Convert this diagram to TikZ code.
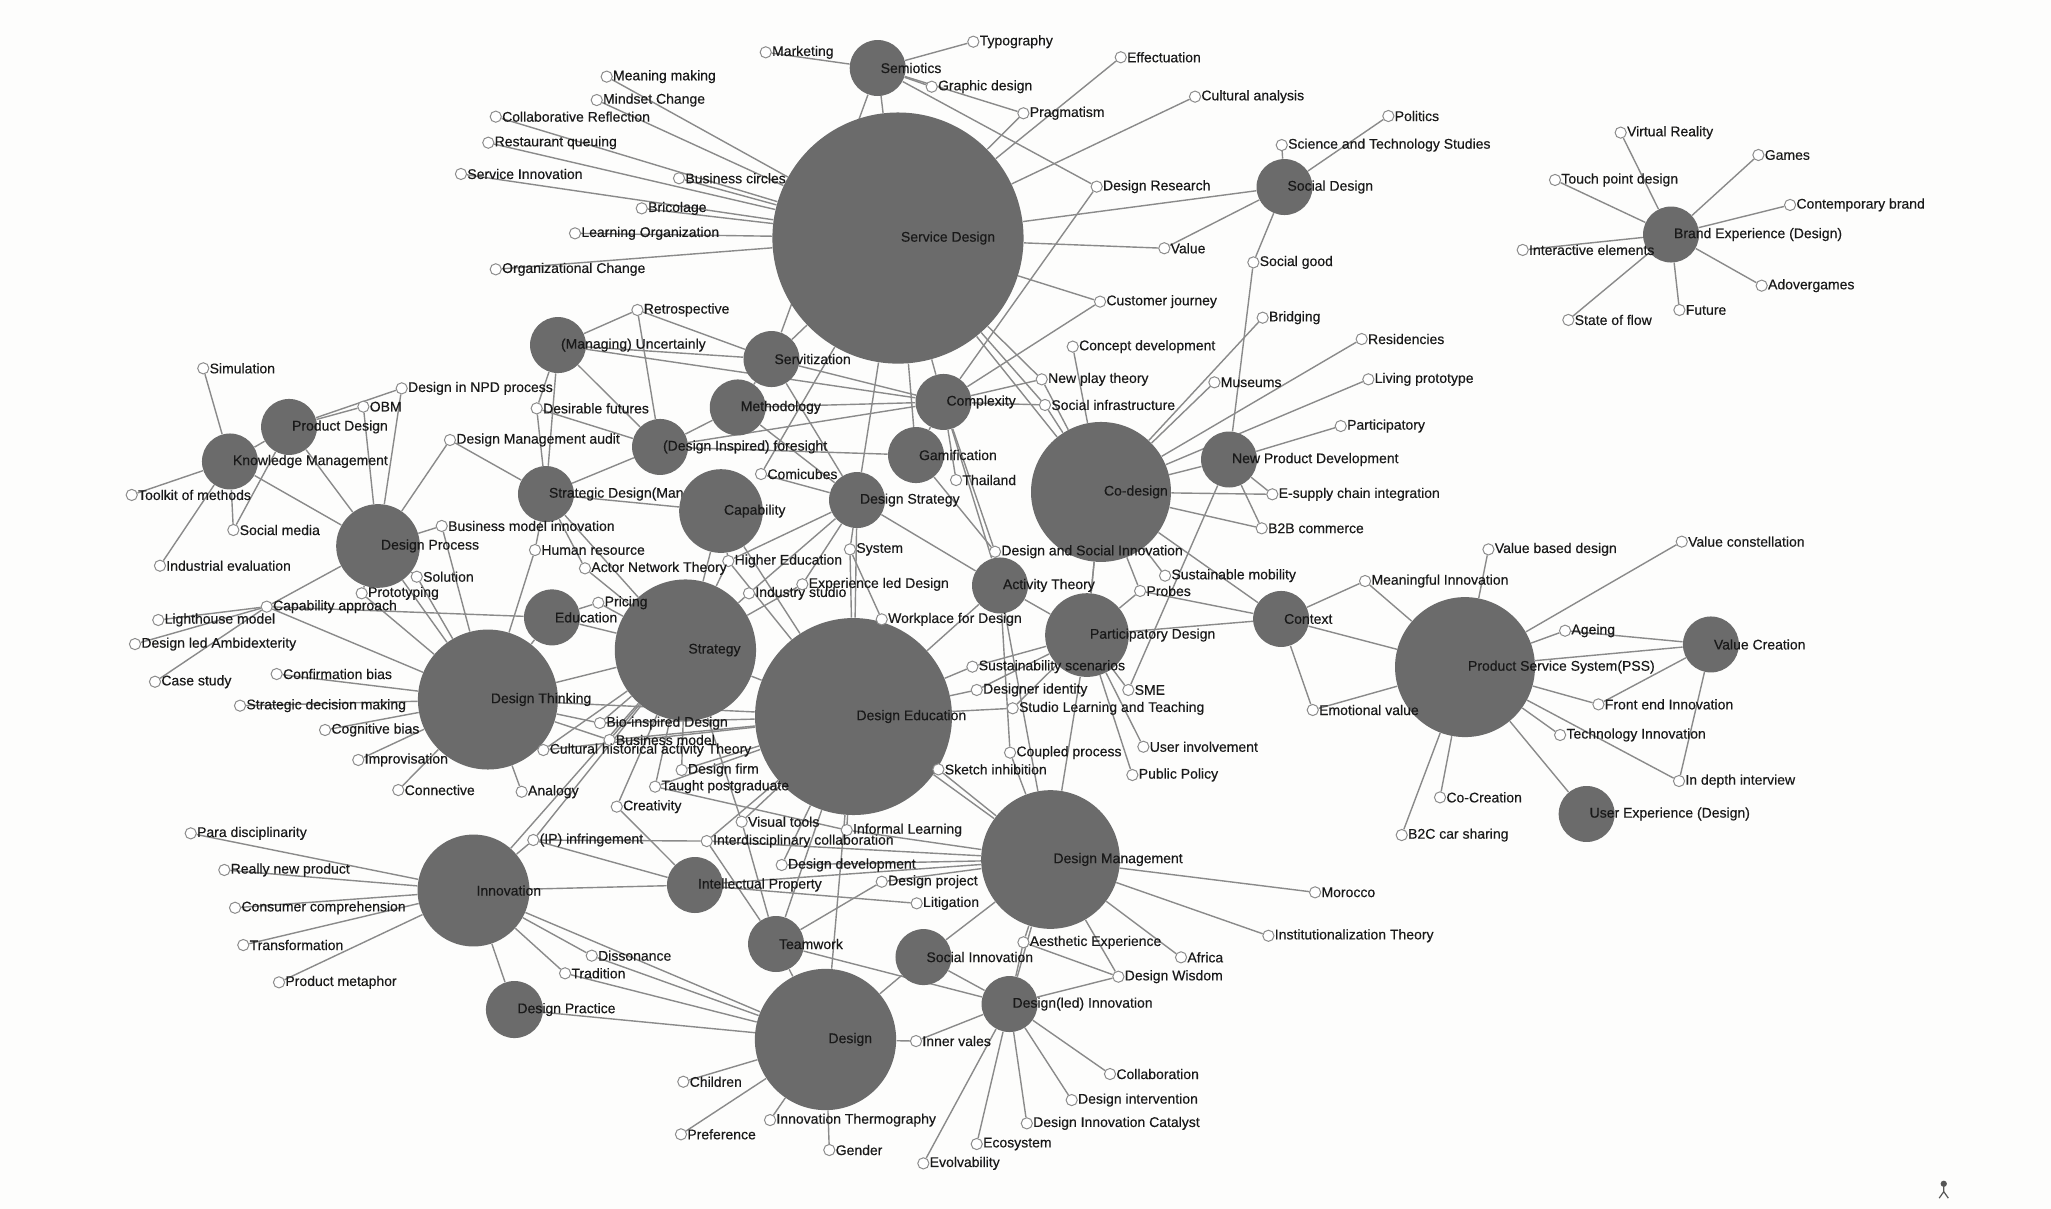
\documentclass[tikz,border=0pt]{standalone}
\usepackage{fontspec}
\setmainfont{Liberation Sans}
\newfontfamily\lblfont{Liberation Sans}[FakeBold=0.35]
\pgfdeclarelayer{paperlayer}\pgfdeclarelayer{bg}\pgfdeclarelayer{fg}
\pgfsetlayers{paperlayer,bg,main,fg}
\definecolor{nodegray}{RGB}{107,107,107}
\definecolor{edgegray}{RGB}{138,138,138}
\definecolor{ringgray}{RGB}{140,140,140}
\definecolor{txt}{RGB}{25,25,25}
\definecolor{paper}{RGB}{253,253,252}
\begin{document}
\begin{tikzpicture}[x=0.654pt,y=-0.654pt,
 big/.style={circle,fill=nodegray,draw=none,inner sep=0pt},
 small/.style={circle,fill=white,draw=ringgray,line width=0.5pt,inner sep=0pt,minimum size=5.6pt},
 edge/.style={draw=edgegray,line width=0.7pt},
 lbl/.style={anchor=west,inner sep=0pt,font=\lblfont\fontsize{7}{8}\selectfont,text=txt}]
\begin{pgfonlayer}{paperlayer}
\fill[paper] (0,0) rectangle (1568,924);
\end{pgfonlayer}
\useasboundingbox (0,0) rectangle (1568,924);
% Strategic Design label lies under the Capability circle
\node[big,minimum size={1.308*21.4pt}] (sdm) at (417.4,377.7) {};
\node[lbl] at ([xshift=1.3pt]sdm.center) {Strategic Design(Man};
% big nodes
\foreach \n/\x/\y/\r/\t in {
sem/671/52/21.4/Semiotics,
sd/686.5/182/96/Service Design,
socd/982/143/21.4/Social Design,
brand/1277.5/179.3/21.4/Brand Experience (Design),
unc/426.6/263.8/21.4/{(Managing) Uncertainly},
serv/589.8/274.5/21.4/Servitization,
meth/564/311.5/21.4/Methodology,
cplx/721.3/307.3/21.4/Complexity,
pd/221/326.4/21.4/Product Design,
km/175.8/352.8/21.4/Knowledge Management,
fore/504.6/341.7/21.4/{(Design Inspired) foresight},
cap/551.2/390.7/32/Capability,
dstr/655.2/382.3/21.4/Design Strategy,
gam/700.3/347.9/21.4/Gamification,
cod/841.7/376.1/53.5/Co-design,
npd/939.6/351.3/21.4/New Product Development,
dp/289/417.4/32/Design Process,
edu/422/472/21.4/Education,
dt/373/534.8/53.5/Design Thinking,
str/524/497/54/Strategy,
de/652.5/547.8/75.3/Design Education,
act/764.5/447.6/21.4/Activity Theory,
ptd/831/485.5/32/Participatory Design,
ctx/979.4/473.2/21.4/Context,
pss/1120/510/53.5/Product Service System(PSS),
vc/1308/492.7/21.4/Value Creation,
ux/1213/622.3/21.4/User Experience (Design),
inn/362/680.8/42.8/Innovation,
dprac/393.3/771.8/21.8/Design Practice,
ip/531.3/676.6/21.4/Intellectual Property,
team/593.3/721.7/21.4/Teamwork,
des/631.1/794.7/54/Design,
soci/706/731.7/21.4/Social Innovation,
dm/803.1/657.1/53/Design Management,
dli/771.8/767.6/21.4/Design(led) Innovation}{
 \node[big,minimum size={1.308*\r pt}] (\n) at (\x,\y) {};
 \begin{pgfonlayer}{fg}\node[lbl] at ([xshift=1.3pt]\n.center) {\t};\end{pgfonlayer}
}
% small nodes
\foreach \n/\x/\y/\t in {
mkt/585.4/40/Marketing, typo/744.1/31.9/Typography, mean/463.8/58.6/Meaning making,
mind/456.2/76.5/Mindset Change, collr/379/89.2/Collaborative Reflection,
rest/373.3/109.1/Restaurant queuing, servi/352.4/133/Service Innovation,
busc/519.1/136.3/Business circles, bric/490.6/159.3/Bricolage,
learn/439.6/178.4/Learning Organization, orgc/379/205.9/Organizational Change,
graph/712.3/66.3/Graphic design, prag/782.4/86.6/Pragmatism,
effec/856.8/43.8/Effectuation, cult/913.6/73.9/Cultural analysis,
polit/1061.4/88.7/Politics, sts/979.9/110.9/Science and Technology Studies,
dres/838.4/142.7/Design Research, val/890.1/189.8/Value,
sgood/958.2/200.6/Social good, cjour/841/230.6/Customer journey,
bridg/965.3/242.9/Bridging, resid/1041/259.2/Residencies,
cdev/820.1/265/Concept development, livp/1046.1/290/Living prototype,
mus/928.4/292.3/Museums, nplay/796.4/290/New play theory,
sinf/798.9/309.6/Social infrastructure, partic/1025/325.7/Participatory,
esup/972.7/377.9/E-supply chain integration, b2b/964.6/403.9/B2B commerce,
thai/730.9/367/Thailand, comi/581.8/362.4/Comicubes,
retro/487.3/237/Retrospective, desf/410.3/312.2/Desirable futures,
npdp/307.1/296.9/Design in NPD process, obm/277.8/310.9/OBM,
simu/155.4/281.6/Simulation, dmaud/344/336.4/Design Management audit,
tool/100.7/378.4/Toolkit of methods, smed/178.4/405.2/Social media,
indev/122.3/432.5/Industrial evaluation, bmi/337.7/402.1/Business model innovation,
hres/409/420.5/Human resource, ant/447.2/434.5/Actor Network Theory,
solu/318.6/440.9/Solution, proto/276.5/453.6/Prototyping,
capa/203.9/463.8/Capability approach, light/121/474/Lighthouse model,
amb/103.2/492.4/Design led Ambidexterity, case/118.5/521.2/Case study,
conf/211.5/515.3/Confirmation bias, sdec/183.5/539.5/Strategic decision making,
cogb/248.5/558.1/Cognitive bias, impro/273.9/581/Improvisation,
conn/304.5/604/Connective, anal/398.8/605.3/Analogy,
pric/457.4/460.8/Pricing, hedu/556.8/428.9/Higher Education,
sys/649.8/420/System, expl/613.4/446.7/Experience led Design,
indst/572.6/453.6/Industry studio, work/674.1/473.5/Workplace for Design,
dsi/760.7/421.8/Design and Social Innovation, smob/890.7/440.1/Sustainable mobility,
probe/871.6/451.8/Probes, mean2/1043.6/444.2/Meaningful Innovation,
vbd/1137.9/420/Value based design, vcon/1285.7/414.1/Value constellation,
age/1196.5/482.2/Ageing, fei/1222/538.5/Front end Innovation,
tinn/1192.7/561.9/Technology Innovation, indep/1283.6/597.1/In depth interview,
emo/1003.6/542.8/Emotional value, sme/862.6/527.5/SME,
uinv/874.1/570.9/User involvement, ppol/865.7/592.5/Public Policy,
cocr/1100.9/609.6/Co-Creation, b2c/1071.6/638.4/B2C car sharing,
moro/1005.4/682.2/Morocco, inst/969.7/715.4/Institutionalization Theory,
afr/902.9/731.9/Africa, wis/855/746.7/Design Wisdom,
aest/782.4/720.4/Aesthetic Experience, colla/848.6/821.1/Collaboration,
dint/819.3/841/Design intervention, dic/785/858.8/Design Innovation Catalyst,
eco/746.7/874.6/Ecosystem, evol/705.9/889.4/Evolvability,
inner/700.3/795.9/Inner vales, child/522.4/827/Children,
pref/520.6/867.2/Preference, ithermo/588.7/856.3/Innovation Thermography,
gend/634/879.2/Gender, dproj/674.1/674.1/Design project,
litig/700.8/690.6/Litigation, ddev/597.6/661.3/Design development,
idc/540.3/643/Interdisciplinary collaboration, vis/567/628.2/Visual tools,
infl/647.3/634.6/Informal Learning, crea/471.5/616.7/Creativity,
taught/500.8/601.4/Taught postgraduate, dfirm/521.1/588.7/Design firm,
bmod/466/565.7/Business model, bio/458.7/552.8/Bio-inspired Design,
chat/415.4/573.4/Cultural historical activity Theory, ipinf/407.7/642.2/{(IP) infringement},
para/145.8/637.1/Para disciplinarity, rnp/171.5/665.1/Really new product,
ccomp/179.7/694/Consumer comprehension, trans/186/722.5/Transformation,
pmet/213.3/751/Product metaphor, diss/452.4/730.6/Dissonance,
trad/432/744.1/Tradition, sketch/717.4/588.2/Sketch inhibition,
coup/772.2/575.4/Coupled process, slt/774.2/541.5/Studio Learning and Teaching,
did/746.7/527.5/Designer identity, sust/743.4/509.7/Sustainability scenarios,
vr/1239/101.4/Virtual Reality, games/1344.3/118.5/Games,
touch/1188.8/137.6/Touch point design, cbrand/1368.5/156.7/Contemporary brand,
inter/1164.1/191.1/Interactive elements, adv/1346.8/218.4/Adovergames,
fut/1283.9/237/Future, flow/1199/244.6/State of flow}{
 \node[small] (\n) at (\x,\y) {};
 \begin{pgfonlayer}{fg}\node[lbl] at ([xshift=3pt]\n.center) {\t};\end{pgfonlayer}
}
% connectors
\begin{pgfonlayer}{bg}
\foreach \a/\b in {
sd/mean, sd/mind, sd/collr, sd/rest, sd/servi, sd/busc, sd/bric, sd/learn, sd/orgc,
sd/sem, sd/effec, sd/cult, sd/prag, sd/socd, sd/val, sd/cjour, sd/nplay, sd/sinf,
sd/cplx, sd/serv, sd/cod, sd/dstr, sd/gam, sd/comi,
sem/mkt, sem/typo, sem/graph, sem/prag, sem/dres, sem/serv,
socd/val, socd/polit, socd/sts, socd/sgood, dres/cplx, sgood/npd, cjour/cplx,
brand/vr, brand/games, brand/touch, brand/cbrand, brand/inter, brand/adv, brand/fut, brand/flow,
cod/cdev, cod/bridg, cod/mus, cod/resid, cod/livp, cod/npd, cod/esup, cod/b2b, cod/smob,
cod/ctx, cod/probe, cod/ptd, cod/nplay, cod/sinf,
npd/partic, npd/esup, npd/b2b, npd/sme,
ctx/probe, ctx/ptd, ctx/mean2, ctx/pss, ctx/emo,
pss/vbd, pss/vcon, pss/age, pss/vc, pss/fei, pss/tinn, pss/indep, pss/ux, pss/cocr, pss/b2c,
pss/mean2, pss/emo, vc/age, vc/fei, vc/indep,
unc/retro, unc/serv, unc/cplx, unc/desf, unc/sdm, unc/fore,
retro/serv, retro/fore, serv/cplx, serv/dstr,
pd/npdp, pd/obm, pd/km, pd/dp, pd/smed,
km/smed, km/dp, km/tool, km/indev, km/simu,
npdp/dp, obm/dp, dmaud/dp, dmaud/sdm,
dp/bmi, dp/dt, dp/capa, dp/solu, dp/proto, solu/dt, proto/dt, bmi/dt,
hres/dt, hres/sdm, capa/light, capa/amb, capa/case, capa/dt, capa/edu,
desf/fore, desf/sdm, fore/sdm, fore/gam, fore/cplx, fore/meth,
sdm/cap, sdm/str, sdm/ant, meth/cplx, meth/dstr, meth/serv,
cap/hedu, cap/de, cap/str,
dstr/sys, dstr/de, dstr/act, dstr/expl, dstr/comi, dstr/indst, dstr/hedu,
gam/dsi, gam/cplx, cplx/thai, cplx/dsi, cplx/act, cplx/nplay, cplx/sinf,
act/dsi, act/ptd, act/de, act/coup, act/dm,
ptd/probe, ptd/sust, ptd/did, ptd/sme, ptd/uinv, ptd/ppol, ptd/slt, ptd/dm, ptd/cod,
coup/dm, sketch/de, sketch/dm, slt/de, did/de, sust/de, work/de, work/sys, sys/de,
expl/str, indst/str, hedu/de, hedu/str, ant/str, pric/edu, pric/str, edu/dt, edu/str,
dt/conf, dt/sdec, dt/cogb, dt/impro, dt/conn, dt/anal, dt/str, dt/chat, dt/bio, dt/bmod, dt/de,
str/de, str/bio, str/bmod, str/chat, str/dfirm, str/taught, str/crea, str/vis, str/inn, str/ipinf,
de/bio, de/bmod, de/chat, de/dfirm, de/taught, de/vis, de/infl, de/idc, de/ddev, de/dm, de/des, de/team,
dm/infl, dm/idc, dm/ddev, dm/dproj, dm/soci, dm/aest, dm/wis, dm/afr, dm/moro, dm/inst, dm/dli,
ip/inn, ip/ipinf, ip/litig, ip/crea, ip/dm,
team/des, team/dproj, team/idc, team/vis, team/dli,
des/soci, des/inner, des/child, des/pref, des/ithermo, des/gend, des/dprac, des/diss, des/trad, des/inn,
inner/dli, soci/dli,
dli/colla, dli/dint, dli/dic, dli/eco, dli/evol, dli/aest, dli/wis, wis/aest,
inn/para, inn/rnp, inn/ccomp, inn/trans, inn/pmet, inn/dprac, inn/ipinf, inn/diss, inn/trad,
ipinf/idc, taught/infl}{
 \draw[edge] (\a) -- (\b);
}
\end{pgfonlayer}
% small mark in the lower right corner
\fill[nodegray!80!black] (1486,905) circle (2.4);
\draw[nodegray!80!black,line width=0.6pt] (1486,907)--(1486,911) (1482.5,916)--(1486,911)--(1489.5,916);
\end{tikzpicture}
\end{document}
